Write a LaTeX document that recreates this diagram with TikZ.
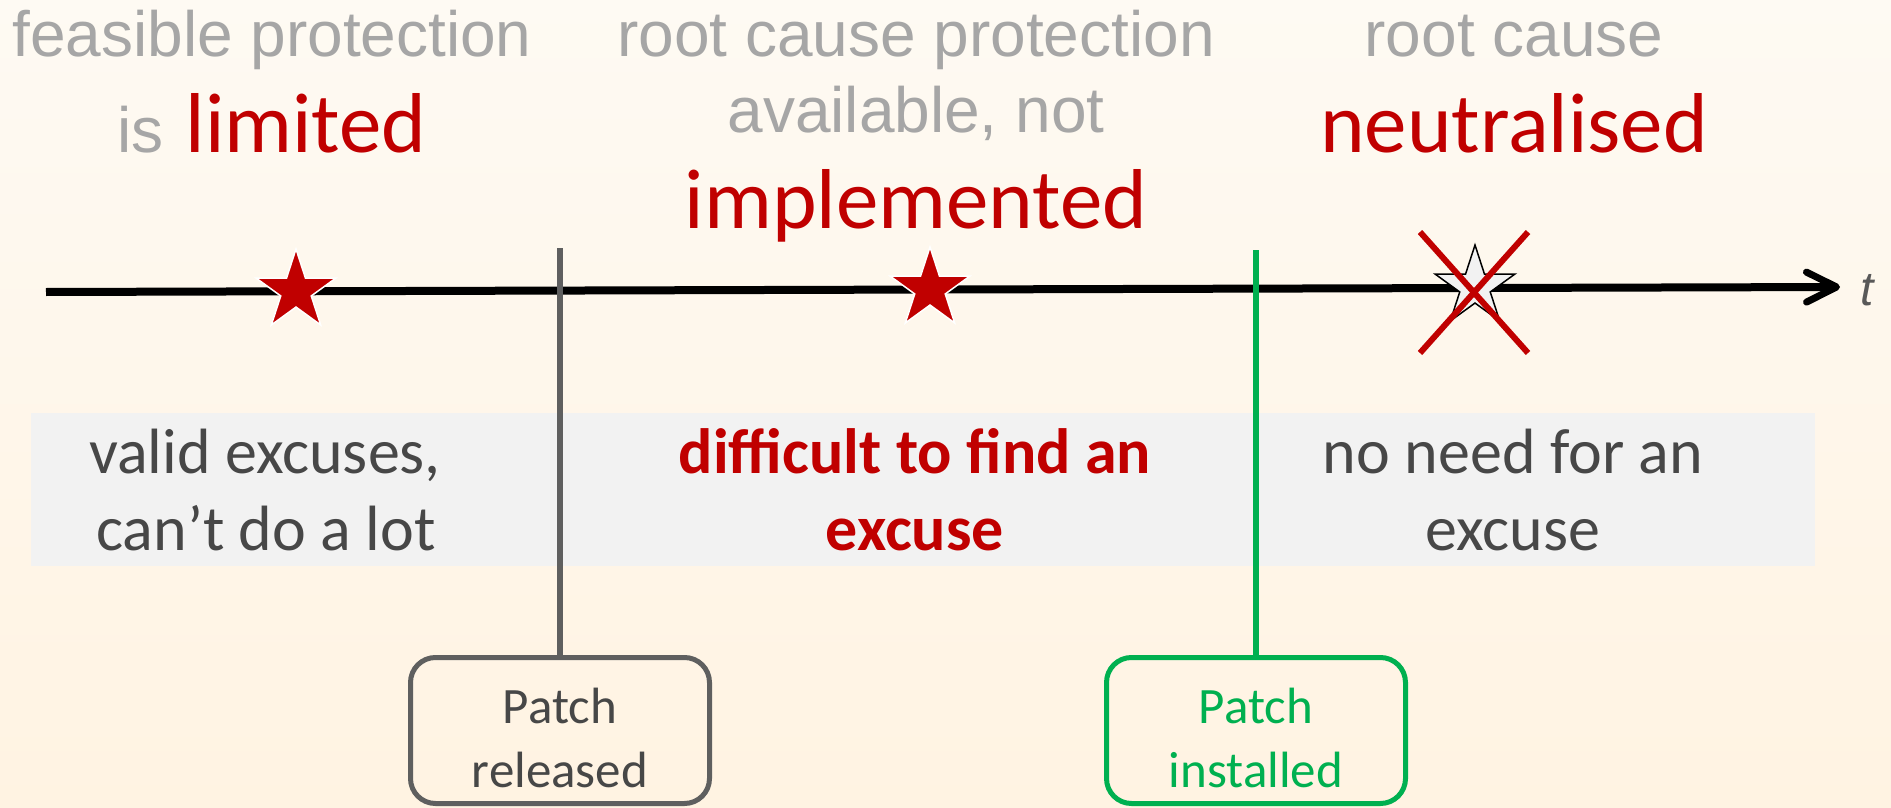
\documentclass[tikz,border=0pt]{standalone}
\usepackage{fontspec}
\setmainfont{Carlito}
\newfontfamily\arialf{Liberation Sans}
\usetikzlibrary{shapes.geometric,arrows.meta}
\definecolor{darkred}{HTML}{C00000}
\definecolor{lgrey}{HTML}{A6A6A6}
\definecolor{txtgrey}{HTML}{474747}
\definecolor{boxgrey}{HTML}{5F5F5F}
\definecolor{tgrey}{HTML}{595959}
\definecolor{pgreen}{HTML}{00B050}
\definecolor{bandcol}{HTML}{F2F2F2}
\definecolor{bgtop}{HTML}{FEFAF3}
\definecolor{bgbot}{HTML}{FFF3E2}
\begin{document}
\begin{tikzpicture}[x=1pt,y=-1pt,
  toptxt/.style={font=\arialf\fontsize{64}{64}\selectfont, text=lgrey, inner sep=0, anchor=base},
  redtxt/.style={font=\fontsize{85}{85}\selectfont, text=darkred, inner sep=0, anchor=base},
  bandtxt/.style={font=\fontsize{64}{64}\selectfont, text=txtgrey, inner sep=0, anchor=base},
  boldtxt/.style={font=\bfseries\fontsize{64}{64}\selectfont, text=darkred, inner sep=0, anchor=base},
  patchbox/.style={draw, rounded corners=25pt, line width=5pt, minimum width=299pt, minimum height=146pt,
     align=center, font=\fontsize{51}{64}\selectfont, inner sep=0},
  redstar/.style={star, star points=5, star point ratio=2.618, fill=darkred, draw=white, line width=1.5pt, minimum size=84pt, inner sep=0},
  deadstar/.style={star, star points=5, star point ratio=2.618, fill=white!95!black, draw=black, line width=1.5pt, minimum size=84pt, inner sep=0},
  crossline/.style={darkred, line width=6pt}
]
\useasboundingbox (0,0) rectangle (1891,808);
\fill[top color=bgtop, bottom color=bgbot] (0,0) rectangle (1891,808);

% band
\fill[bandcol] (31,413) rectangle (1815,566);

% top texts
\node[toptxt] (a1) at (272,57) {feasible protection};
\node[inner sep=0, anchor=base] (a2) at (272,152) {{\arialf\fontsize{64}{64}\selectfont\color{lgrey}is\hspace{22pt}}{\fontsize{85}{85}\selectfont\color{darkred}limited}};
\node[toptxt] (b1) at (916,57) {root cause protection};
\node[toptxt] (b2) at (916,132) {available, not};
\node[redtxt] (b3) at (916,228) {implemented};
\node[toptxt] (c1) at (1514,57) {root cause};
\node[redtxt] (c2) at (1514,152) {neutralised};

% band texts
\node[bandtxt] (d1) at (265,473) {valid excuses,};
\node[bandtxt] (d2) at (266,550) {can’t do a lot};
\node[boldtxt] (e1) at (915,473) {difficult to find an};
\node[boldtxt] (e2) at (915,550) {excuse};
\node[bandtxt] (f1) at (1513,473) {no need for an};
\node[bandtxt] (f2) at (1513,550) {excuse};

% timeline
\coordinate (t0) at (46,292);
\coordinate (t1) at (1840,287);
\draw[line width=8pt, -{Straight Barb[length=30pt,width=30pt,line width=7pt,round]}] (t0) -- (t1);
\node[font=\arialf\itshape\fontsize{48}{48}\selectfont, text=tgrey, inner sep=0, anchor=base] (tl) at (1867,305) {t};

% boxes and markers
\node[patchbox, draw=boxgrey, text=txtgrey] (rel) at (560,730.5) {\rule{0pt}{50pt}Patch\\released};
\node[patchbox, draw=pgreen, text=pgreen] (inst) at (1256,730.5) {\rule{0pt}{50pt}Patch\\installed};
\coordinate (reltop) at (560,248);
\coordinate (insttop) at (1256,250);
\draw[boxgrey, line width=6pt] (reltop) -- (rel.north);
\draw[pgreen, line width=6pt] (insttop) -- (inst.north);

\node[redstar] (s1) at (296,291) {};
\node[redstar] (s2) at (930,289) {};
\node[deadstar] (s3) at (1475,287) {};
\coordinate (x1) at (1420,232);
\coordinate (x2) at (1528,353);
\coordinate (x3) at (1528,232);
\coordinate (x4) at (1420,353);
\draw[crossline] (x1) -- (x2);
\draw[crossline] (x3) -- (x4);
\end{tikzpicture}
\end{document}
